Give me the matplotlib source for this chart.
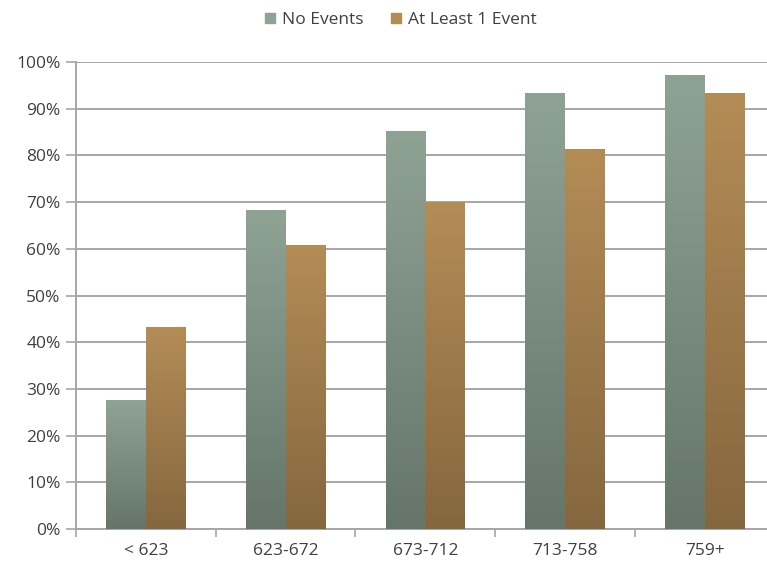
import numpy as np
import matplotlib
matplotlib.use("Agg")
import matplotlib.pyplot as plt
from matplotlib.colors import LinearSegmentedColormap
from matplotlib.patches import Rectangle
from matplotlib.ticker import PercentFormatter, FixedLocator

plt.rcParams["font.family"] = ["Open Sans", "DejaVu Sans"]

categories = ["< 623", "623-672", "673-712", "713-758", "759+"]
no_events = [0.276, 0.684, 0.852, 0.934, 0.972]
at_least_one = [0.433, 0.609, 0.700, 0.814, 0.934]
series_names = ["No Events", "At Least 1 Event"]

# top / bottom colours for the Excel-style gradient fill
green_top, green_bot = "#8FA395", "#65756A"
brown_top, brown_bot = "#B48C56", "#85673F"

text_col = "#404040"
grid_col = "#A6A6A6"
fs = 12.5

fig = plt.figure(figsize=(7.67, 5.70), dpi=100)
ax = fig.add_axes([76 / 767, 41 / 570, 698.5 / 767, 467 / 570])

x = np.arange(len(categories))
w = 0.283


def gradient_bars(bars, top, bot):
    cmap = LinearSegmentedColormap.from_list("g", [bot, top])
    grad = np.linspace(0, 1, 256).reshape(-1, 1)
    for b in bars:
        x0, h, bw = b.get_x(), b.get_height(), b.get_width()
        im = ax.imshow(grad, cmap=cmap, origin="lower", aspect="auto",
                       extent=[x0, x0 + bw, 0, h], zorder=3)
        im.set_clip_path(b)
        b.set_facecolor("none")


b1 = ax.bar(x - w / 2, no_events, w, color=green_top, zorder=3, linewidth=0)
b2 = ax.bar(x + w / 2, at_least_one, w, color=brown_top, zorder=3, linewidth=0)
gradient_bars(b1, green_top, green_bot)
gradient_bars(b2, brown_top, brown_bot)

ax.set_xlim(-0.5, len(categories) - 0.5)
ax.set_ylim(0, 1)
ax.set_yticks(np.arange(0, 1.01, 0.1))
ax.yaxis.set_major_formatter(PercentFormatter(1.0, decimals=0))
ax.yaxis.grid(True, color=grid_col, linewidth=1.4, zorder=0)
ax.set_axisbelow(True)

ax.set_xticks(x)
ax.set_xticklabels(categories)
ax.xaxis.set_minor_locator(FixedLocator(np.arange(-0.5, len(categories), 1.0)))
ax.tick_params(axis="x", which="major", length=0, pad=10, labelsize=fs, labelcolor=text_col)
ax.tick_params(axis="x", which="minor", length=6, width=1.2, color=grid_col)
ax.tick_params(axis="y", length=7, width=1.2, color=grid_col, labelsize=fs,
               labelcolor=text_col, pad=4)

for s in ["top", "right"]:
    ax.spines[s].set_visible(False)
for s in ["left", "bottom"]:
    ax.spines[s].set_color(grid_col)
    ax.spines[s].set_linewidth(1.4)

handles = [Rectangle((0, 0), 1, 1, color=green_top), Rectangle((0, 0), 1, 1, color=brown_top)]
fig.legend(handles, series_names, loc="center", bbox_to_anchor=(401 / 767, 1 - 20 / 570),
           ncol=2, frameon=False, fontsize=fs, labelcolor=text_col,
           handlelength=0.55, handleheight=0.55, handletextpad=0.4, columnspacing=1.6)

fig.savefig("out.png", dpi=100)
